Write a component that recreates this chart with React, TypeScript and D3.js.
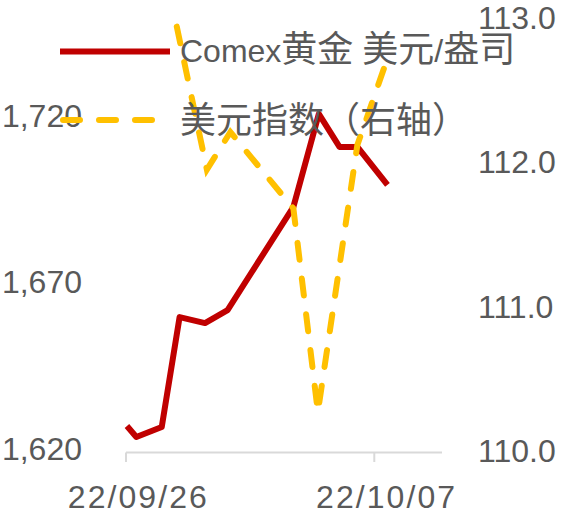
import { useEffect, useRef } from "react";
import * as d3 from "d3";

// Comex gold (left axis), USD index (right axis)
const goldDates = [
    "2022-09-26 01:00",
    "2022-09-26 11:00",
    "2022-09-27 14:00",
    "2022-09-28 09:00",
    "2022-09-29 12:00",
    "2022-09-30 12:00",
    "2022-10-03 10:00",
    "2022-10-04 13:00",
    "2022-10-05 11:00",
    "2022-10-06 06:00",
    "2022-10-07 14:00",
];
const goldValues = [1627.5, 1624.2, 1627.2, 1660.2, 1658.4, 1662.3, 1693.3, 1721.2, 1711.3, 1711.3, 1699.9];

const dxyDates = [
    "2022-09-28 06:00",
    "2022-09-29 14:00",
    "2022-09-30 15:00",
    "2022-10-03 10:00",
    "2022-10-04 12:00",
    "2022-10-06 06:00",
    "2022-10-07 14:00",
];
const dxyValues = [112.94, 111.95, 112.21, 111.68, 110.27, 112.12, 112.72];

const leftTicks = [1620, 1670, 1720];
const rightTicks = [110, 111, 112, 113];
const xTickDates = ["2022-09-26 00:00", "2022-10-07 00:00"];
const legendLabels = ["Comex黄金 美元/盎司", "美元指数（右轴）"];

const width = 573;
const height = 526;

export default function App() {
    let ref = useRef<HTMLDivElement | null>(null);

    useEffect(() => {
        const parse = d3.timeParse("%Y-%m-%d %H:%M");
        const fmt = d3.timeFormat("%y/%m/%d");
        const plot = { left: 126, right: 442, top: 18, bottom: 451 };

        const x = d3
            .scaleTime()
            .domain([parse("2022-09-26 00:00")!, parse("2022-10-10 00:00")!])
            .range([plot.left, plot.right]);
        const yLeft = d3.scaleLinear().domain([1620, 1750]).range([plot.bottom, plot.top]);
        const yRight = d3.scaleLinear().domain([110, 113]).range([plot.bottom, plot.top]);

        const gold = goldDates.map((d, i) => ({ t: parse(d)!, v: goldValues[i] }));
        const dxy = dxyDates.map((d, i) => ({ t: parse(d)!, v: dxyValues[i] }));

        d3.select(ref.current).selectAll("*").remove();
        const svg = d3
            .select(ref.current)
            .append("svg")
            .attr("width", width)
            .attr("height", height)
            .style("position", "absolute")
            .style("left", "0px")
            .style("top", "0px")
            .style("background", "#fff");

        const textColor = "#595959";
        const numFont = "'Liberation Sans', Arial, sans-serif";
        const cjkFont = "'Noto Sans CJK SC', sans-serif";

        // x axis line + ticks
        svg.append("line")
            .attr("x1", plot.left)
            .attr("x2", plot.right)
            .attr("y1", plot.bottom + 1.5)
            .attr("y2", plot.bottom + 1.5)
            .attr("stroke", "#d9d9d9")
            .attr("stroke-width", 2);
        const xTicks = xTickDates.map((d) => parse(d)!);
        svg.append("g")
            .selectAll("line")
            .data(xTicks)
            .join("line")
            .attr("x1", (d) => x(d))
            .attr("x2", (d) => x(d))
            .attr("y1", plot.bottom + 1.5)
            .attr("y2", plot.bottom + 11)
            .attr("stroke", "#d9d9d9")
            .attr("stroke-width", 2);
        svg.append("g")
            .selectAll("text")
            .data(xTicks)
            .join("text")
            .attr("x", (d) => x(d3.timeHour.offset(d, 12)))
            .attr("y", 508)
            .attr("text-anchor", "middle")
            .attr("font-family", numFont)
            .attr("font-size", 32)
            .attr("fill", textColor)
            .attr("textLength", 139)
            .attr("lengthAdjust", "spacing")
            .text((d) => fmt(d));

        // left y labels
        svg.append("g")
            .selectAll("text")
            .data(leftTicks)
            .join("text")
            .attr("x", 82)
            .attr("y", (d) => yLeft(d) + 9)
            .attr("text-anchor", "end")
            .attr("font-family", numFont)
            .attr("font-size", 32)
            .attr("fill", textColor)
            .text((d) => d3.format(",")(d));

        // right y labels
        svg.append("g")
            .selectAll("text")
            .data(rightTicks)
            .join("text")
            .attr("x", 478)
            .attr("y", (d) => yRight(d) + 11)
            .attr("text-anchor", "start")
            .attr("font-family", numFont)
            .attr("font-size", 32)
            .attr("fill", textColor)
            .text((d) => d3.format(".1f")(d));

        // series
        const goldLine = d3
            .line<{ t: Date; v: number }>()
            .x((d) => x(d.t))
            .y((d) => yLeft(d.v));
        const dxyLine = d3
            .line<{ t: Date; v: number }>()
            .x((d) => x(d.t))
            .y((d) => yRight(d.v));

        svg.append("path")
            .datum(gold)
            .attr("d", goldLine)
            .attr("fill", "none")
            .attr("stroke", "#c00000")
            .attr("stroke-width", 6)
            .attr("stroke-linejoin", "round");

        svg.append("path")
            .datum(dxy)
            .attr("d", dxyLine)
            .attr("fill", "none")
            .attr("stroke", "#ffc000")
            .attr("stroke-width", 6)
            .attr("stroke-linecap", "round")
            .attr("stroke-dasharray", "17 19");

        // legend
        const legend = svg.append("g");
        legend.append("line")
            .attr("x1", 60)
            .attr("x2", 170)
            .attr("y1", 51.5)
            .attr("y2", 51.5)
            .attr("stroke", "#c00000")
            .attr("stroke-width", 6);
        legend.append("line")
            .attr("x1", 63)
            .attr("x2", 160)
            .attr("y1", 120)
            .attr("y2", 120)
            .attr("stroke", "#ffc000")
            .attr("stroke-width", 6)
            .attr("stroke-linecap", "round")
            .attr("stroke-dasharray", "17 19");

        const cjk = /[\u3000-\u9fff\uff00-\uffef]+|[^\u3000-\u9fff\uff00-\uffef]+/g;
        legendLabels.forEach((label, i) => {
            const t = legend
                .append("text")
                .attr("x", 180)
                .attr("y", i == 0 ? 62 : 133)
                .attr("fill", textColor);
            (label.match(cjk) ?? []).forEach((run) => {
                const isCjk = /[\u3000-\u9fff\uff00-\uffef]/.test(run);
                t.append("tspan")
                    .attr("font-family", isCjk ? cjkFont : numFont)
                    .attr("font-size", isCjk ? 36 : 32)
                    .style("white-space", "pre")
                    .text(run);
            });
        });
    }, []);

    return <div id="chart" ref={ref} />;
}
